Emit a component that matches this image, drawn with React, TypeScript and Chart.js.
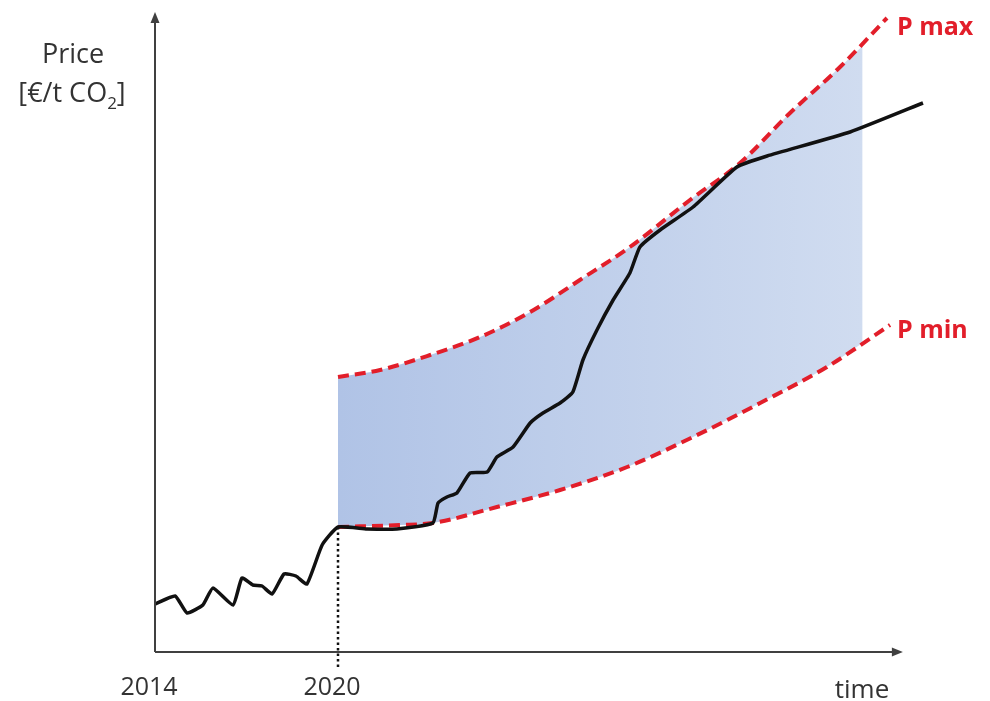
import React, { useEffect, useRef } from "react";
import { Chart, registerables } from "chart.js";

Chart.register(...registerables);

// ---- data (x in years, y in arbitrary price units) ----
const priceX = [2014.0, 2014.66, 2015.05, 2015.57, 2015.9, 2016.56, 2016.85, 2017.21, 2017.51, 2017.84, 2018.23, 2018.62, 2018.98, 2019.48, 2020.0, 2020.95, 2021.93, 2023.11, 2023.28, 2023.57, 2023.9, 2024.33, 2024.89, 2025.21, 2025.74, 2026.3, 2026.72, 2027.28, 2027.7, 2028.03, 2028.49, 2029.02, 2029.57, 2029.9, 2030.56, 2031.64, 2033.08, 2034.07, 2036.79, 2039.18];
const priceY = [4.8, 5.6, 3.9, 4.7, 6.4, 4.7, 7.4, 6.7, 6.6, 5.8, 7.8, 7.6, 6.8, 10.7, 12.5, 12.3, 12.3, 12.9, 14.9, 15.5, 15.9, 17.9, 18.0, 19.5, 20.5, 22.9, 23.9, 24.9, 26.0, 29.2, 32.2, 35.2, 37.9, 40.5, 42.2, 44.5, 48.5, 49.6, 52.0, 54.9];

const pMaxX = [2020.0, 2021.38, 2023.02, 2024.66, 2026.3, 2027.93, 2029.57, 2031.54, 2033.18, 2034.82, 2036.46, 2038.0];
const pMaxY = [27.5, 28.2, 29.7, 31.5, 34.0, 37.2, 40.5, 45.2, 48.9, 53.9, 58.5, 63.4];

const pMinX = [2020.0, 2022.03, 2023.11, 2025.21, 2027.28, 2029.48, 2031.64, 2033.84, 2036.03, 2038.1];
const pMinY = [12.5, 12.7, 12.9, 14.5, 16.2, 18.5, 21.5, 24.9, 28.5, 32.7];

const bandTopX = [2020.0, 2021.38, 2023.02, 2024.66, 2026.3, 2027.93, 2029.57, 2031.54, 2033.18, 2034.82, 2036.46, 2037.2];
const bandTopY = [27.5, 28.2, 29.7, 31.5, 34.0, 37.2, 40.5, 45.2, 48.9, 53.9, 58.5, 60.6];
const bandBotX = [2020.0, 2022.03, 2023.11, 2025.21, 2027.28, 2029.48, 2031.64, 2033.84, 2036.03, 2037.2];
const bandBotY = [12.5, 12.7, 12.9, 14.5, 16.2, 18.5, 21.5, 24.9, 28.5, 30.9];

const xTickValues = [2014, 2020];
const xTickLabels = ["2014", "2020"];
const markerYear = 2020;
const markerPrice = 12.5;
const xAxisEnd = 2038.52;
const xMin = 2014;
const xMax = 2040;
const yMin = 0;
const yMax = 64;
const bandStart = 2020;
const bandEnd = 2037.2;

const pts = (xs: number[], ys: number[]) => xs.map((x, i) => ({ x, y: ys[i] }));

const RED = "rgb(226, 30, 42)";
const AXIS = "#404040";
const FONT = "'Open Sans', Lato, sans-serif";

export default function App() {
  const ref = useRef<HTMLCanvasElement | null>(null);

  useEffect(() => {
    const canvas = ref.current;
    if (!canvas) return;

    const overlay = {
      id: "overlay",
      afterDraw(chart: any) {
        const ctx = chart.ctx as CanvasRenderingContext2D;
        const xs = chart.scales.x;
        const ys = chart.scales.y;
        const x0 = xs.getPixelForValue(xMin);
        const y0 = ys.getPixelForValue(yMin);
        const yTop = ys.getPixelForValue(yMax);
        const xEnd = xs.getPixelForValue(xAxisEnd);
        ctx.save();
        // dotted marker
        const mx = xs.getPixelForValue(markerYear);
        ctx.strokeStyle = "#111";
        ctx.lineWidth = 2.5;
        ctx.setLineDash([2.5, 3]);
        ctx.beginPath();
        ctx.moveTo(mx, ys.getPixelForValue(markerPrice));
        ctx.lineTo(mx, y0 + 16);
        ctx.stroke();
        ctx.setLineDash([]);
        // axes
        ctx.strokeStyle = AXIS;
        ctx.fillStyle = AXIS;
        ctx.lineWidth = 2;
        ctx.beginPath();
        ctx.moveTo(x0, y0);
        ctx.lineTo(x0, yTop + 8);
        ctx.moveTo(x0, y0);
        ctx.lineTo(xEnd - 8, y0);
        ctx.stroke();
        ctx.beginPath();
        ctx.moveTo(x0, yTop);
        ctx.lineTo(x0 - 4.5, yTop + 11);
        ctx.lineTo(x0 + 4.5, yTop + 11);
        ctx.closePath();
        ctx.fill();
        ctx.beginPath();
        ctx.moveTo(xEnd, y0);
        ctx.lineTo(xEnd - 11, y0 - 4.5);
        ctx.lineTo(xEnd - 11, y0 + 4.5);
        ctx.closePath();
        ctx.fill();

        // tick labels
        ctx.fillStyle = "#333";
        ctx.font = `25px ${FONT}`;
        ctx.textAlign = "center";
        ctx.textBaseline = "alphabetic";
        xTickValues.forEach((v, i) => {
          ctx.fillText(xTickLabels[i], xs.getPixelForValue(v) - 6, 695);
        });
        ctx.font = `26px ${FONT}`;
        ctx.fillText("time", 862, 698);

        // y title
        ctx.font = `27px ${FONT}`;
        ctx.fillText("Price", 73, 63);
        ctx.textAlign = "left";
        const p1 = "[€/t CO";
        const w1 = ctx.measureText(p1).width;
        ctx.font = `17px ${FONT}`;
        const w2 = ctx.measureText("2").width;
        ctx.font = `27px ${FONT}`;
        const w3 = ctx.measureText("]").width;
        const total = w1 + w2 + w3;
        let sx = 72 - total / 2;
        ctx.fillText(p1, sx, 102);
        sx += w1;
        ctx.font = `17px ${FONT}`;
        ctx.fillText("2", sx, 109);
        sx += w2;
        ctx.font = `27px ${FONT}`;
        ctx.fillText("]", sx, 102);

        // curve labels
        ctx.fillStyle = RED;
        ctx.font = `bold 25px ${FONT}`;
        ctx.textAlign = "left";
        ctx.fillText("P max", 897, 35);
        ctx.fillText("P min", 897, 338);
        ctx.restore();
      },
    };

    const chart = new Chart(canvas, {
      type: "line",
      data: {
        datasets: [
          {
            label: "Price",
            data: pts(priceX, priceY),
            borderColor: "#111",
            borderWidth: 3.5,
            pointRadius: 0,
            tension: 0.15,
            fill: false,
            order: 0,
          },
          {
            label: "P max",
            data: pts(pMaxX, pMaxY),
            borderColor: RED,
            borderWidth: 4,
            borderDash: [11, 6],
            pointRadius: 0,
            cubicInterpolationMode: "monotone",
            fill: false,
            order: 1,
          },
          {
            label: "P min",
            data: pts(pMinX, pMinY),
            borderColor: RED,
            borderWidth: 4,
            borderDash: [11, 6],
            pointRadius: 0,
            cubicInterpolationMode: "monotone",
            fill: false,
            order: 2,
          },
          {
            label: "band top",
            data: pts(bandTopX, bandTopY),
            borderWidth: 0,
            borderColor: "rgba(0,0,0,0)",
            pointRadius: 0,
            cubicInterpolationMode: "monotone",
            fill: { target: 4 },
            backgroundColor: (c: any) => {
              const ch = c.chart;
              const xs = ch.scales && ch.scales.x;
              if (!ch.chartArea || !xs) return "rgb(188,204,234)";
              const a = xs.getPixelForValue(bandStart);
              const b = xs.getPixelForValue(bandEnd);
              if (!isFinite(a) || !isFinite(b)) return "rgb(188,204,234)";
              const g = ch.ctx.createLinearGradient(a, 0, b, 0);
              g.addColorStop(0, "rgb(176,195,230)");
              g.addColorStop(1, "rgb(208,220,240)");
              return g;
            },
            order: 3,
          },
          {
            label: "band bottom",
            data: pts(bandBotX, bandBotY),
            borderWidth: 0,
            borderColor: "rgba(0,0,0,0)",
            pointRadius: 0,
            cubicInterpolationMode: "monotone",
            fill: false,
            order: 4,
          },
        ],
      },
      options: {
        animation: false,
        responsive: false,
        maintainAspectRatio: false,
        layout: { padding: { left: 155, right: 42, top: 12, bottom: 49 } },
        scales: {
          x: { type: "linear", min: xMin, max: xMax, display: false },
          y: { type: "linear", min: yMin, max: yMax, display: false },
        },
        plugins: {
          legend: { display: false },
          tooltip: { enabled: false },
        },
      },
      plugins: [overlay],
    });

    return () => chart.destroy();
  }, []);

  return (
    <div style={{ position: "fixed", left: 0, top: 0, width: 990, height: 701, background: "#fff" }}>
      <canvas ref={ref} width={990} height={701} style={{ width: 990, height: 701 }} />
    </div>
  );
}
